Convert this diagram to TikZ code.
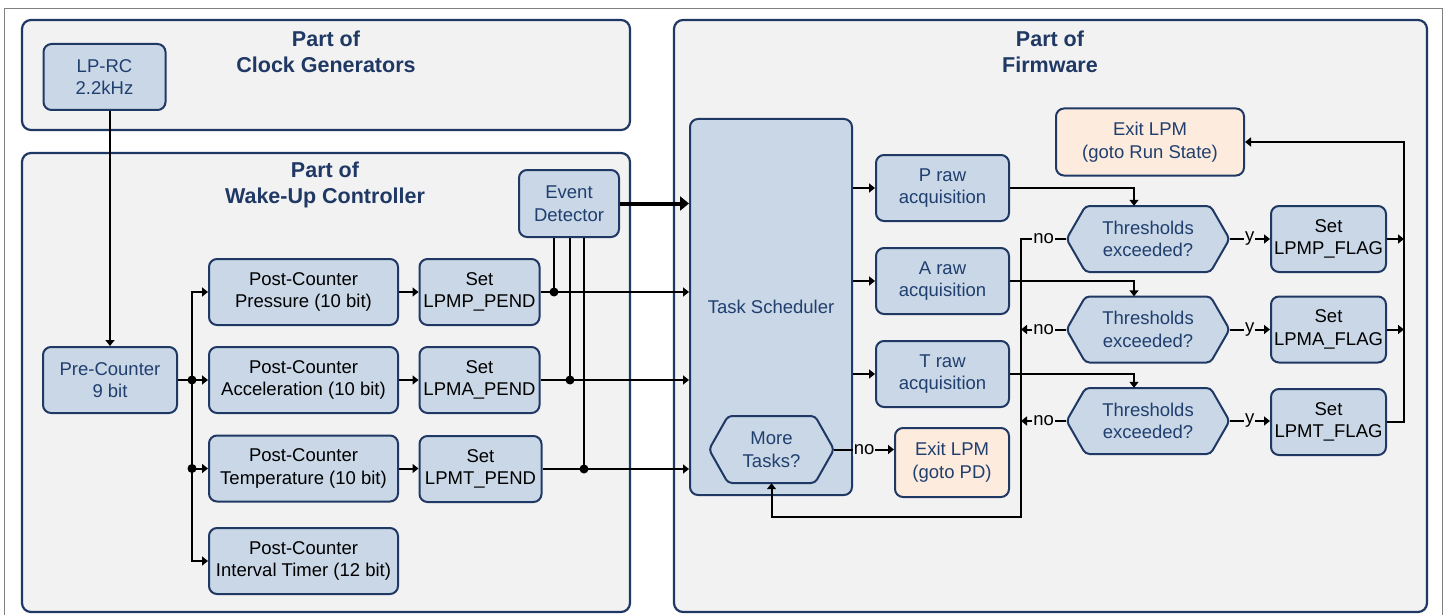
\documentclass[tikz,border=0pt]{standalone}
\usepackage{fontspec}
\setmainfont{Liberation Sans}
\usetikzlibrary{arrows.meta,calc}
\definecolor{nodefill}{HTML}{C9D7E7}
\definecolor{navy}{HTML}{1F3864}
\definecolor{panelfill}{HTML}{F2F2F2}
\definecolor{exitfill}{HTML}{FDEBDD}
\definecolor{framegrey}{HTML}{808080}
\definecolor{txtblue}{HTML}{203F6E}
\newcommand{\nfont}{\fontsize{18.5}{22.7}\selectfont}
\newcommand{\hexnode}[6]{%
  \draw[hexshape] ({#2-#4/2},{#3}) -- ({#2-#4/2+19},{#3-#5/2}) -- ({#2+#4/2-19},{#3-#5/2}) -- ({#2+#4/2},{#3}) -- ({#2+#4/2-19},{#3+#5/2}) -- ({#2-#4/2+19},{#3+#5/2}) -- cycle;
  \node[hextext, minimum width=#4pt, minimum height=#5pt] (#1) at (#2,#3) {#6};
}
\begin{document}
\begin{tikzpicture}[x=1pt,y=-1pt,
  panel/.style={draw=navy, line width=2.2pt, fill=panelfill, rounded corners=9pt},
  heading/.style={font=\bfseries\fontsize{21.5}{25.7}\selectfont, text=navy, align=center, inner sep=0pt},
  blk/.style={draw=navy, line width=2pt, fill=nodefill, rounded corners=8pt, align=center, inner sep=0pt, font=\nfont},
  bluebox/.style={blk, text=txtblue},
  blackbox/.style={blk, text=black},
  exitbox/.style={blk, fill=exitfill, text=txtblue},
  hexshape/.style={draw=navy, line width=2pt, fill=nodefill, rounded corners=4pt},
  hextext/.style={draw=none, align=center, inner sep=0pt, text=txtblue, font=\nfont},
  conn/.style={line width=2pt, draw=black},
  arr/.style={conn, -{Triangle[length=6pt,width=9pt]}},
  bigarr/.style={line width=4pt, draw=black, -{Triangle[length=9pt,width=14pt]}},
  lbl/.style={fill=panelfill, inner sep=1pt, font=\nfont, text=black},
  jdot/.style={circle, fill=black, inner sep=0pt, minimum size=9pt}
]
\useasboundingbox (0,0) rectangle (1448,615);
\fill[white] (0,0) rectangle (1448,615);
\draw[framegrey, line width=1pt] (4,616) -- (4,9) -- (1442,9) -- (1442,616);

% panels
\draw[panel] (22,20) rectangle (630,130);
\draw[panel] (22,153) rectangle (630,612);
\draw[panel] (674,20) rectangle (1427,612);
\node[heading] (hclk) at (326,52) {Part of\\Clock Generators};
\node[heading] (hwu) at (325,185) {Part of\\Wake-Up Controller};
\node[heading] (hfw) at (1050,52) {Part of\\Firmware};

% wake-up controller nodes
\node[bluebox, minimum width=122pt, minimum height=66pt] (lprc) at (104.5,77) {LP-RC\\2.2kHz};
\node[bluebox, minimum width=134pt, minimum height=66pt] (pre) at (110,380) {Pre-Counter\\9 bit};
\node[blackbox, minimum width=189pt, minimum height=66pt] (pcp) at (303.5,292) {Post-Counter\\Pressure (10 bit)};
\node[blackbox, minimum width=189pt, minimum height=66pt] (pca) at (303.5,380) {Post-Counter\\Acceleration (10 bit)};
\node[blackbox, minimum width=189pt, minimum height=66pt] (pct) at (303.5,468.5) {Post-Counter\\Temperature (10 bit)};
\node[blackbox, minimum width=189pt, minimum height=66pt] (pci) at (303.5,561) {Post-Counter\\Interval Timer (12 bit)};
\node[blackbox, minimum width=120pt, minimum height=66pt] (setp) at (479.5,292) {Set\\LPMP\_PEND};
\node[blackbox, minimum width=120pt, minimum height=66pt] (seta) at (479.5,380) {Set\\LPMA\_PEND};
\node[blackbox, minimum width=122pt, minimum height=66pt] (sett) at (480.5,469) {Set\\LPMT\_PEND};
\node[bluebox, minimum width=100pt, minimum height=67pt] (ed) at (569,203.5) {Event\\Detector};

% firmware nodes
\node[bluebox, minimum width=162pt, minimum height=376pt] (ts) at (771,307) {Task Scheduler};
\hexnode{mt}{771.5}{449.5}{125}{67}{More\\Tasks?}
\node[exitbox, minimum width=114pt, minimum height=69pt] (expd) at (952,462.5) {Exit LPM\\(goto PD)};
\node[bluebox, minimum width=133pt, minimum height=66pt] (praw) at (942.5,188) {P raw\\acquisition};
\node[bluebox, minimum width=133pt, minimum height=66pt] (araw) at (942.5,281) {A raw\\acquisition};
\node[bluebox, minimum width=133pt, minimum height=66pt] (traw) at (942.5,374) {T raw\\acquisition};
\node[exitbox, minimum width=188pt, minimum height=67pt] (exrun) at (1150,142) {Exit LPM\\(goto Run State)};
\hexnode{th1}{1148}{239}{163}{66}{Thresholds\\exceeded?}
\hexnode{th2}{1148}{329.5}{163}{66}{Thresholds\\exceeded?}
\hexnode{th3}{1148}{421}{163}{66}{Thresholds\\exceeded?}
\node[blackbox, minimum width=115pt, minimum height=66pt] (fp) at (1328.5,239) {Set\\LPMP\_FLAG};
\node[blackbox, minimum width=115pt, minimum height=66pt] (fa) at (1328.5,329.5) {Set\\LPMA\_FLAG};
\node[blackbox, minimum width=115pt, minimum height=66pt] (ft) at (1328.5,422) {Set\\LPMT\_FLAG};

% helper coordinates
\coordinate (bus) at (192,380);
\coordinate (rb) at (1404,142);
\coordinate (lb) at (1021,517);

% clock to pre-counter
\draw[arr] (lprc.south -| pre.north) -- (pre.north);
% pre-counter bus
\draw[arr] (pre.east) -- (pca.west);
\draw[arr] (bus) |- (pcp.west);
\draw[arr] (bus) |- (pci.west);
\draw[arr] (bus |- pct.west) -- (pct.west);
\node[jdot] (d1) at (bus) {};
\node[jdot] (d2) at (bus |- pct.west) {};
% post-counters to set
\draw[arr] (pcp.east) -- (setp.west);
\draw[arr] (pca.east) -- (seta.west);
\draw[arr] (pct.east) -- (sett.west |- pct.east);
% event detector lines
\draw[conn] ([xshift=-15pt]ed.south) -- ([xshift=-15pt]ed.south |- setp.east);
\draw[conn] ([xshift=1pt]ed.south) -- ([xshift=1pt]ed.south |- seta.east);
\draw[conn] ([xshift=15pt]ed.south) -- ([xshift=15pt]ed.south |- sett.east);
\draw[arr] (setp.east) -- (setp.east -| ts.west);
\draw[arr] (seta.east) -- (seta.east -| ts.west);
\draw[arr] (sett.east) -- (sett.east -| ts.west);
\node[jdot] (d3) at ([xshift=-15pt]ed.south |- setp.east) {};
\node[jdot] (d4) at ([xshift=1pt]ed.south |- seta.east) {};
\node[jdot] (d5) at ([xshift=15pt]ed.south |- sett.east) {};
\draw[bigarr] (ed.east) -- (ed.east -| ts.west);

% scheduler to raw
\draw[arr] (praw.west -| ts.east) -- (praw.west);
\draw[arr] (araw.west -| ts.east) -- (araw.west);
\draw[arr] (traw.west -| ts.east) -- (traw.west);
% raw to thresholds
\draw[arr] (praw.east) -| ([xshift=-14pt]th1.north);
\draw[arr] (araw.east) -| ([xshift=-14pt]th2.north);
\draw[arr] (traw.east) -| ([xshift=-14pt]th3.north);
% thresholds to flags
\draw[arr] (th1.east) -- node[lbl] {y} (fp.west);
\draw[arr] (th2.east) -- node[lbl] {y} (fa.west);
\draw[arr] (th3.east) -- node[lbl] {y} (ft.west |- th3.east);
% flags to exit run
\draw[arr] (fp.east) -- (fp.east -| rb);
\draw[arr] (fa.east) -- (fa.east -| rb);
\draw[arr] (ft.east) -- (ft.east -| rb) |- (exrun.east);
% no branches
\draw[arr] (th1.west) -- node[lbl] {no} (th1.west -| lb) -- (lb) -| (mt.south);
\draw[arr] (th2.west) -- node[lbl] {no} (th2.west -| lb);
\draw[arr] (th3.west) -- node[lbl] {no} (th3.west -| lb);
% more tasks to exit PD
\draw[arr] (mt.east) -- node[lbl] {no} (mt.east -| expd.west);
\end{tikzpicture}
\end{document}
